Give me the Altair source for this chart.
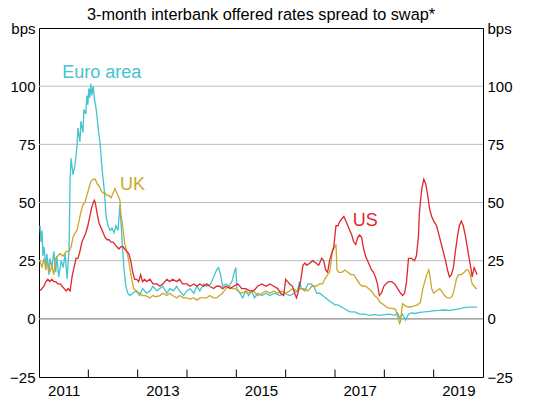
import altair as alt
import pandas as pd

# ---- data (decimal years, basis points) ----
euro_t = [2010.52,2010.54,2010.56,2010.58,2010.60,2010.64,2010.66,2010.70,2010.72,2010.76,2010.80,2010.84,2010.86,2010.90,2010.95,2010.99,2011.03,2011.07,2011.09,2011.11,2011.13,2011.15,2011.19,2011.23,2011.27,2011.29,2011.33,2011.35,2011.39,2011.41,2011.45,2011.47,2011.49,2011.51,2011.53,2011.55,2011.57,2011.60,2011.62,2011.66,2011.70,2011.74,2011.78,2011.82,2011.86,2011.90,2011.94,2011.98,2012.02,2012.06,2012.10,2012.12,2012.14,2012.16,2012.18,2012.22,2012.26,2012.30,2012.34,2012.40,2012.46,2012.54,2012.60,2012.68,2012.75,2012.81,2012.89,2012.95,2013.01,2013.09,2013.15,2013.23,2013.29,2013.35,2013.43,2013.50,2013.56,2013.64,2013.70,2013.76,2013.84,2013.90,2013.98,2014.04,2014.10,2014.14,2014.18,2014.22,2014.29,2014.35,2014.41,2014.47,2014.49,2014.51,2014.57,2014.63,2014.69,2014.75,2014.81,2014.87,2014.93,2015.02,2015.10,2015.18,2015.28,2015.38,2015.48,2015.58,2015.68,2015.74,2015.78,2015.82,2015.89,2015.95,2016.01,2016.07,2016.13,2016.19,2016.25,2016.31,2016.37,2016.43,2016.50,2016.56,2016.64,2016.72,2016.80,2016.90,2017.00,2017.10,2017.20,2017.30,2017.40,2017.51,2017.61,2017.71,2017.77,2017.81,2017.87,2017.93,2017.99,2018.05,2018.13,2018.21,2018.32,2018.42,2018.52,2018.62,2018.72,2018.82,2018.92,2019.02,2019.12,2019.22,2019.32,2019.38]
euro_v = [40,33,38,27,31,22,28,19,26,22,29,20,27,18,25,22,28,17,24,30,60,69,62,66,74,82,76,85,80,90,88,96,92,99,95,101,96,100,95,90,82,75,64,56,44,40,38,39,37,40,38,43,49,42,35,22,14,11,10,11,12,10,13,11,12,14,12,13,14,11,13,12,14,12,10,12,13,11,14,12,15,14,15,18,21,22,19,14,15,14,16,21,22,13,11,9,12,10,12,9,11,10,11,10,11,10,11,10,11,12,16,13,12,15,15,14,11,11,10,9,8,7,6,6,5,4,3,3,2,2,1.5,1.8,1.5,1.8,2,1.5,2.5,0.5,2,-0.5,2,2.5,2.3,2.8,3,3.2,3.5,3.6,3.8,3.6,4,4.3,4.8,5,5,5]

uk_t = [2010.52,2010.56,2010.60,2010.64,2010.68,2010.72,2010.76,2010.80,2010.84,2010.88,2010.93,2010.99,2011.05,2011.11,2011.15,2011.19,2011.23,2011.27,2011.31,2011.35,2011.39,2011.43,2011.47,2011.51,2011.55,2011.60,2011.64,2011.68,2011.72,2011.76,2011.80,2011.84,2011.88,2011.92,2011.96,2012.00,2012.04,2012.06,2012.10,2012.14,2012.16,2012.20,2012.24,2012.28,2012.32,2012.34,2012.38,2012.42,2012.48,2012.54,2012.60,2012.66,2012.75,2012.81,2012.87,2012.95,2013.01,2013.09,2013.15,2013.21,2013.29,2013.35,2013.43,2013.50,2013.56,2013.64,2013.70,2013.76,2013.84,2013.90,2013.96,2014.04,2014.10,2014.16,2014.22,2014.29,2014.35,2014.41,2014.47,2014.53,2014.61,2014.69,2014.77,2014.85,2014.93,2015.02,2015.10,2015.18,2015.26,2015.34,2015.42,2015.50,2015.58,2015.64,2015.72,2015.78,2015.87,2015.95,2016.03,2016.11,2016.19,2016.25,2016.29,2016.35,2016.39,2016.43,2016.45,2016.50,2016.52,2016.54,2016.58,2016.64,2016.70,2016.76,2016.82,2016.88,2016.94,2017.00,2017.06,2017.12,2017.18,2017.24,2017.30,2017.36,2017.42,2017.49,2017.55,2017.61,2017.67,2017.73,2017.77,2017.81,2017.83,2017.85,2017.87,2017.93,2018.01,2018.09,2018.17,2018.23,2018.28,2018.32,2018.36,2018.40,2018.42,2018.46,2018.50,2018.56,2018.62,2018.66,2018.72,2018.78,2018.84,2018.88,2018.92,2018.96,2019.00,2019.06,2019.12,2019.16,2019.20,2019.24,2019.28,2019.32,2019.36,2019.38]
uk_v = [25,22,26,21,24,20,23,19,26,27,28,27,29,29,31,35,37,38,42,46,49,50,53,56,59,60,60,58,57,55,54,54,53,53,52,54,56,55,53,51,45,39,32,29,25,22,17,13,12,11,10,10,9,10,9.5,10,11,10,11,10,9,10,9,9,8.5,9,8,9,9,9,10,9,9,10,11,13,14,13,13,12,11,12,11,12,10,11,12,11,12,11,12,11,12,13,12,13,13,12,14,14,15,15,17,19,20,26,30,31,32,21,20,20,21,20,19,19,17,15,14,14,13,12,10,9,7,6,5,4.5,4.5,4,1,-2,-1,3,6.5,5.5,5,5.5,6,7,13,16,19,21,19,13,11,12,13,12,10,9,9,10,13,17,19,19,20,21,21,19,15,14,13,13]

us_t = [2010.52,2010.56,2010.60,2010.64,2010.68,2010.72,2010.76,2010.80,2010.84,2010.88,2010.93,2010.97,2011.01,2011.05,2011.09,2011.13,2011.17,2011.21,2011.25,2011.29,2011.33,2011.37,2011.41,2011.45,2011.49,2011.53,2011.57,2011.62,2011.64,2011.68,2011.72,2011.76,2011.80,2011.84,2011.88,2011.92,2011.96,2012.00,2012.04,2012.08,2012.12,2012.16,2012.20,2012.24,2012.28,2012.32,2012.36,2012.40,2012.44,2012.48,2012.52,2012.56,2012.60,2012.64,2012.68,2012.75,2012.81,2012.89,2012.95,2013.01,2013.09,2013.15,2013.21,2013.29,2013.35,2013.41,2013.50,2013.56,2013.64,2013.70,2013.76,2013.84,2013.90,2013.96,2014.04,2014.10,2014.16,2014.22,2014.29,2014.37,2014.45,2014.53,2014.61,2014.69,2014.77,2014.85,2014.93,2015.02,2015.10,2015.18,2015.26,2015.34,2015.40,2015.46,2015.50,2015.54,2015.58,2015.64,2015.68,2015.72,2015.76,2015.80,2015.85,2015.89,2015.93,2015.99,2016.05,2016.11,2016.17,2016.23,2016.27,2016.31,2016.35,2016.39,2016.43,2016.47,2016.52,2016.56,2016.60,2016.64,2016.68,2016.72,2016.76,2016.80,2016.84,2016.88,2016.92,2016.96,2017.00,2017.04,2017.08,2017.12,2017.16,2017.20,2017.24,2017.28,2017.32,2017.36,2017.40,2017.44,2017.49,2017.53,2017.59,2017.65,2017.71,2017.77,2017.83,2017.87,2017.91,2017.95,2017.99,2018.05,2018.11,2018.15,2018.19,2018.21,2018.23,2018.26,2018.30,2018.34,2018.38,2018.42,2018.46,2018.50,2018.56,2018.62,2018.68,2018.74,2018.78,2018.82,2018.86,2018.90,2018.94,2018.98,2019.02,2019.06,2019.10,2019.14,2019.18,2019.22,2019.26,2019.28,2019.32,2019.36,2019.38]
us_v = [12,13,14,16,17,16,17,16,16,15,15,14,13,12,13,12,18,22,26,26,29,33,35,37,40,44,48,51,50,45,41,39,37,35,34,34,33,33,32,31,30,31,31,30,29,28,25,20,17,17,16,19,16,17,16,17,15,15,14,15,17,16,17,16,17,15,15,14,15,14,15,14,15,14,13,14,14,13,14,13,14,15,13,13,12,12,14,15,14,15,14,13,11,10,17,16,15,14,11,9,12,16,23,24,23,24,25,24,23,26,25,21,20,25,28,30,40,40,42,43,44,42,40,38,36,33,32,35,36,35,30,27,25,23,21,20,18,15,10,11,14,15,16,16,15,13,11,10,11,16,26,26,25,27,35,45,50,56,60,58,53,47,44,42,40,35,30,25,21,18,19,22,29,35,40,42,40,36,31,26,21,18,22,20,19]

series_names = ["Euro area", "UK", "US"]
series_colors = ["#45c3d1", "#c9a82c", "#e1262c"]

label_names = ["Euro area", "UK", "US"]
label_t = [2010.97, 2012.14, 2016.86]
label_v = [105.8, 57.6, 42.0]

x_label_years = [2011, 2013, 2015, 2017, 2019]
x_tick_years = [2011.5, 2012.5, 2013.5, 2014.5, 2015.5, 2016.5, 2017.5, 2018.5]
y_ticks = [-25, 0, 25, 50, 75, 100, 125]
grid_values = [25, 50, 75, 100]
zero_values = [0]

# ---- tables ----
rows = []
for name, ts, vs in zip(series_names, [euro_t, uk_t, us_t], [euro_v, uk_v, us_v]):
    for i, (t, v) in enumerate(zip(ts, vs)):
        rows.append({"series": name, "t": t, "v": v, "order": i})
df = pd.DataFrame(rows)
labels_df = pd.DataFrame({"series": label_names, "t": label_t, "v": label_v})
ticks_df = pd.DataFrame({"t": x_tick_years, "v0": [-25] * len(x_tick_years), "v1": [-21.8] * len(x_tick_years)})
grid_df = pd.DataFrame({"v": grid_values})
zero_df = pd.DataFrame({"v": zero_values})

FONT = "Liberation Sans"
xscale = alt.Scale(domain=[2010.5, 2019.5], nice=False, zero=False)
yscale = alt.Scale(domain=[-25, 125], nice=False, zero=False)
cscale = alt.Scale(domain=series_names, range=series_colors)

label_expr = "datum.value == 125 ? 'bps' : datum.label"

left_axis = alt.Axis(values=y_ticks, tickSize=0, labelPadding=4, domain=True, domainColor="black",
                     domainWidth=1, grid=False, labelExpr=label_expr, title=None, labelFontSize=15,
                     labelFont=FONT, labelColor="black", orient="left")
right_axis = alt.Axis(values=y_ticks, tickSize=0, labelPadding=4, domain=True, domainColor="black",
                      domainWidth=1, grid=False, labelExpr=label_expr, title=None, labelFontSize=15,
                      labelFont=FONT, labelColor="black", orient="right")
x_axis = alt.Axis(values=x_label_years, format="d", tickSize=0, labelPadding=6, domain=True,
                  domainColor="black", domainWidth=1, grid=False, title=None, labelFontSize=15,
                  labelFont=FONT, labelColor="black", labelFlush=False, labelOverlap=False,
                  orient="bottom")
x_top_axis = alt.Axis(values=x_label_years, labels=False, ticks=False, domain=True,
                      domainColor="black", domainWidth=1, grid=False, title=None, orient="top")

grid = alt.Chart(grid_df).mark_rule(color="#bdbdbd", strokeWidth=1).encode(
    y=alt.Y("v:Q", scale=yscale, axis=right_axis)
)
zero = alt.Chart(zero_df).mark_rule(color="#8c8c8c", strokeWidth=1.2).encode(
    y=alt.Y("v:Q", scale=yscale, axis=None)
)
lines = alt.Chart(df).mark_line(strokeWidth=1.3).encode(
    x=alt.X("t:Q", scale=xscale, axis=x_axis),
    y=alt.Y("v:Q", scale=yscale, axis=left_axis),
    color=alt.Color("series:N", scale=cscale, legend=None),
    order="order:Q",
)
ticks = alt.Chart(ticks_df).mark_rule(color="black", strokeWidth=1).encode(
    x=alt.X("t:Q", scale=xscale, axis=x_top_axis),
    y=alt.Y("v0:Q", scale=yscale, axis=None),
    y2="v1:Q",
)
texts = alt.Chart(labels_df).mark_text(align="left", baseline="middle", fontSize=18, font=FONT).encode(
    x=alt.X("t:Q", scale=xscale, axis=None),
    y=alt.Y("v:Q", scale=yscale, axis=None),
    text="series:N",
    color=alt.Color("series:N", scale=cscale, legend=None),
)

chart = alt.layer(grid, zero, lines, ticks, texts).resolve_axis(x="independent", y="independent").properties(
    width=444,
    height=349,
    title=alt.TitleParams("3-month interbank offered rates spread to swap*", fontSize=16.3,
                          font=FONT, fontWeight="normal", anchor="middle", color="black", offset=-2),
    autosize=alt.AutoSizeParams(type="none"),
    padding={"left": 31, "top": 20, "right": 68, "bottom": 21},
).configure_view(stroke="black", strokeWidth=1).configure(background="white")

chart.save("out.html", embed_options={"renderer": "svg", "actions": False})
